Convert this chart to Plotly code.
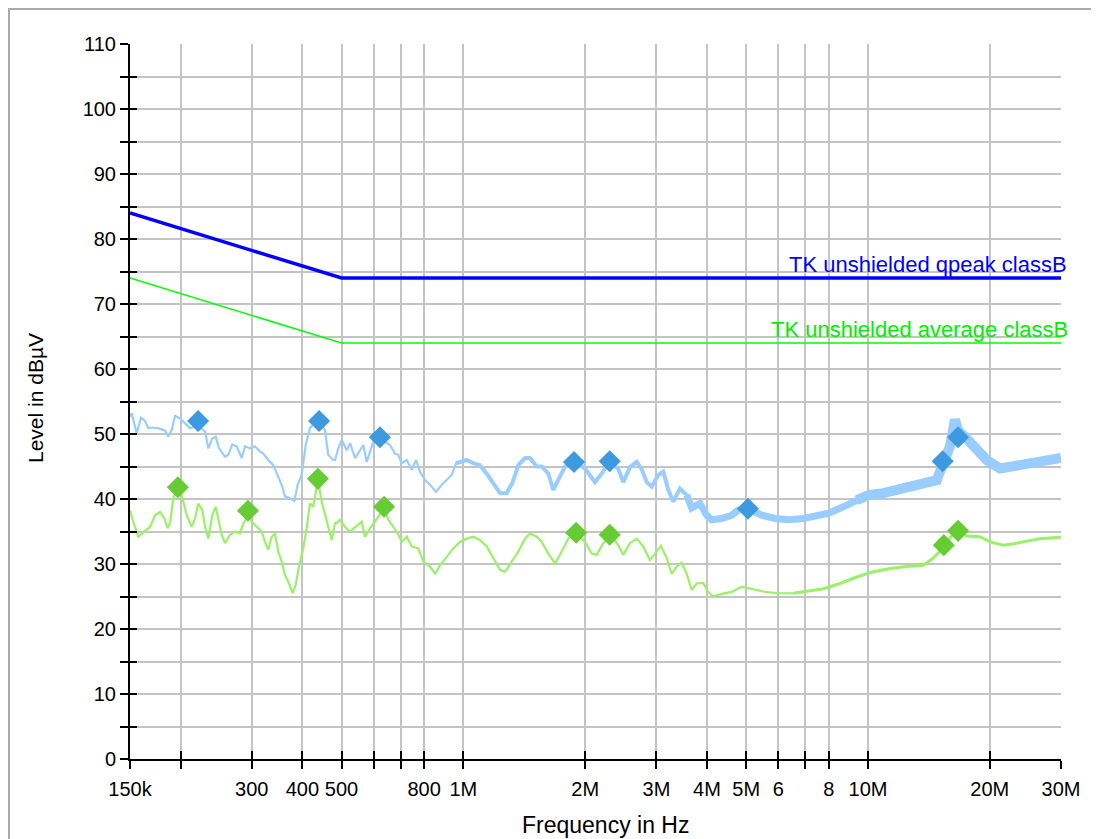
import plotly.graph_objects as go
import numpy as np

# ---------------- data ----------------
limit_qp_freq = [150e3, 500e3, 30e6]
limit_qp_level = [84, 74, 74]
limit_av_freq = [150e3, 500e3, 30e6]
limit_av_level = [74, 64, 64]

peak_freq = [150e3, 151.5e3, 155.8e3, 159.7e3, 163.4e3, 166.5e3, 169.7e3, 176.2e3, 183.1e3, 186.6e3,
             190.2e3, 193.8e3, 199.4e3, 205.2e3, 211.1e3, 219.8e3, 229.9e3, 234.2e3, 239.6e3, 244.3e3,
             248.9e3, 257.6e3, 262.5e3, 268.5e3, 275.3e3, 283.2e3, 288.6e3, 296.9e3, 305.5e3, 314.3e3,
             320.3e3, 329.5e3, 339e3, 348.8e3, 356.9e3, 362.4e3, 372.9e3, 382.1e3, 389.5e3, 398.5e3,
             407.7e3, 417.8e3, 437.2e3, 455e3, 463.6e3, 477e3, 481.8e3, 490.9e3, 500.5e3, 514.9e3,
             524.7e3, 539.9e3, 555.4e3, 566e3, 577e3, 588e3, 599.1e3, 622.4e3, 658.8e3, 677.8e3,
             690.7e3, 704.2e3, 724.5e3, 745.4e3, 763.9e3, 781.5e3, 804e3, 827.2e3, 855.9e3, 884.2e3,
             909.7e3, 935.9e3, 959.1e3, 990.8e3, 1.019e6, 1.058e6, 1.099e6, 1.142e6, 1.186e6, 1.232e6,
             1.280e6, 1.324e6, 1.367e6, 1.420e6, 1.461e6, 1.518e6, 1.562e6, 1.622e6, 1.668e6, 1.717e6,
             1.783e6, 1.880e6, 1.998e6, 2.115e6, 2.197e6, 2.304e6, 2.415e6, 2.485e6, 2.581e6, 2.682e6,
             2.759e6, 2.839e6, 2.921e6, 3.032e6, 3.120e6, 3.210e6, 3.303e6, 3.431e6, 3.564e6, 3.667e6,
             3.844e6, 3.994e6, 4.109e6, 4.350e6, 4.605e6, 4.781e6, 5.062e6, 5.463e6, 5.892e6, 6.356e6,
             6.921e6, 7.472e6, 7.982e6, 8.692e6, 9.382e6, 10.02e6, 10.91e6, 11.78e6, 12.94e6, 13.97e6,
             14.79e6, 15.35e6, 15.95e6, 16.41e6, 16.72e6, 17.54e6, 18.57e6, 19.66e6, 21.2e6, 22.44e6,
             24.21e6, 26.63e6, 29.28e6, 30e6]
peak_level = [52.7, 53.2, 50.1, 52.5, 52.0, 50.9, 51.0, 50.9, 50.5, 49.6,
              50.6, 52.8, 52.4, 51.6, 50.9, 51.2, 50.4, 47.8, 49.3, 49.6,
              47.8, 46.5, 46.8, 48.4, 48.1, 46.3, 48.1, 47.8, 48.1, 47.3,
              47.0, 46.0, 45.2, 43.4, 41.9, 40.4, 40.1, 39.7, 42.2, 43.7,
              48.3, 50.9, 52.3, 50.6, 46.8, 46.0, 46.0, 47.8, 49.1, 47.5,
              48.6, 46.3, 47.5, 48.3, 45.7, 47.3, 48.8, 49.3, 48.3, 47.0,
              46.8, 45.5, 46.0, 44.5, 46.0, 44.2, 42.9, 42.2, 41.1, 42.2,
              42.9, 43.7, 45.5, 45.7, 46.0, 45.5, 45.2, 43.9, 42.4, 40.9,
              40.9, 42.6, 45.2, 46.3, 46.3, 45.0, 45.0, 43.9, 41.4, 42.9,
              45.0, 45.7, 44.7, 42.6, 43.9, 45.8, 44.6, 42.6, 44.9, 45.7,
              44.6, 42.6, 41.9, 43.7, 44.2, 41.4, 39.6, 41.6, 40.6, 38.6,
              39.3, 37.5, 36.8, 37.0, 37.5, 38.3, 38.5, 37.5, 37.0, 36.8,
              37.0, 37.5, 37.8, 38.8, 39.8, 40.6, 40.9, 41.4, 41.9, 42.4,
              42.9, 45.5, 48.1, 52.2, 50.5, 49.3, 47.5, 46.0, 44.7, 45.0,
              45.5, 45.7, 46.3, 46.3]

avg_freq = [150e3, 152.8e3, 157.3e3, 163.4e3, 168.1e3, 173e3, 178e3, 182.4e3, 185.9e3, 188.4e3,
            191.9e3, 197.1e3, 201.3e3, 207.1e3, 213.1e3, 217.2e3, 221.3e3, 226.4e3, 229.9e3, 234.2e3,
            239.6e3, 244.3e3, 248e3, 252.8e3, 257.6e3, 265e3, 272.7e3, 280.5e3, 285.8e3, 293.6e3,
            299.8e3, 308.5e3, 317.4e3, 323.4e3, 329.5e3, 336e3, 342.3e3, 348.8e3, 355.6e3, 362.4e3,
            370.7e3, 378.6e3, 385.1e3, 392.4e3, 402.2e3, 410e3, 417.8e3, 425.7e3, 437.2e3, 446.5e3,
            459.4e3, 472.7e3, 481.8e3, 486.4e3, 495.7e3, 510e3, 524.7e3, 539.9e3, 560.8e3, 571.5e3,
            588e3, 636.7e3, 652.5e3, 671.3e3, 690.7e3, 704.2e3, 724.5e3, 745.4e3, 774e3, 796.3e3,
            827.2e3, 851.1e3, 875.7e3, 909.7e3, 944.5e3, 981.3e3, 1.019e6, 1.058e6, 1.099e6, 1.142e6,
            1.186e6, 1.232e6, 1.267e6, 1.317e6, 1.367e6, 1.420e6, 1.461e6, 1.518e6, 1.562e6, 1.622e6,
            1.685e6, 1.750e6, 1.817e6, 1.899e6, 1.998e6, 2.076e6, 2.136e6, 2.218e6, 2.310e6, 2.415e6,
            2.485e6, 2.581e6, 2.682e6, 2.784e6, 2.892e6, 2.976e6, 3.079e6, 3.181e6, 3.273e6, 3.367e6,
            3.464e6, 3.564e6, 3.667e6, 3.773e6, 3.917e6, 4.030e6, 4.147e6, 4.350e6, 4.605e6, 4.875e6,
            5.161e6, 5.567e6, 6.004e6, 6.540e6, 6.921e6, 7.758e6, 8.530e6, 9.382e6, 10.31e6, 11.34e6,
            12.47e6, 13.7e6, 14.5e6, 15.35e6, 15.95e6, 16.72e6, 17.54e6, 18.93e6, 20.03e6, 21.6e6,
            22.87e6, 24.21e6, 26.63e6, 29.83e6, 30e6]
avg_level = [38.3, 36.5, 34.2, 35.0, 35.7, 37.5, 38.0, 37.0, 35.5, 36.3,
             40.1, 42.0, 40.6, 37.5, 35.7, 37.0, 39.3, 38.3, 35.7, 33.9,
             37.5, 38.8, 36.8, 34.5, 33.2, 34.5, 35.0, 34.7, 36.2, 37.5,
             36.5, 35.7, 35.0, 33.4, 32.2, 34.2, 34.7, 31.9, 30.4, 28.3,
             27.0, 25.5, 26.8, 29.6, 32.4, 35.5, 39.3, 38.8, 43.0, 39.6,
             36.5, 33.7, 36.3, 36.3, 36.8, 35.7, 35.0, 35.7, 36.5, 34.2,
             35.5, 38.5, 36.8, 35.7, 34.5, 33.4, 34.2, 32.7, 32.4, 30.4,
             29.6, 28.5, 29.8, 31.1, 32.4, 33.4, 33.9, 34.2, 33.7, 32.7,
             30.9, 29.1, 28.8, 30.4, 31.9, 33.9, 34.7, 34.2, 33.4, 31.6,
             30.1, 31.9, 33.9, 34.8, 33.4, 31.6, 31.4, 33.2, 34.5, 32.9,
             31.4, 33.2, 33.9, 32.7, 30.6, 31.6, 32.8, 30.9, 28.5, 29.6,
             30.2, 28.5, 26.0, 27.0, 27.1, 25.7, 25.0, 25.4, 25.7, 26.5,
             26.2, 25.7, 25.5, 25.5, 25.7, 26.2, 27.0, 28.0, 28.8, 29.3,
             29.6, 29.8, 30.9, 32.5, 34.0, 35.3, 34.3, 34.2, 33.4, 32.9,
             33.1, 33.4, 33.9, 34.1, 34.1]

peak_marker_freq = [221e3, 440e3, 622e3, 1.877e6, 2.30e6, 5.05e6, 15.3e6, 16.7e6]
peak_marker_level = [52.0, 52.0, 49.5, 45.7, 45.8, 38.5, 45.8, 49.5]
avg_marker_freq = [197e3, 293.5e3, 437e3, 637e3, 1.9e6, 2.30e6, 15.4e6, 16.7e6]
avg_marker_level = [41.8, 38.2, 43.1, 38.8, 34.8, 34.5, 32.9, 35.1]

x_tickvals = [150e3, 200e3, 300e3, 400e3, 500e3, 600e3, 700e3, 800e3, 1e6, 2e6, 3e6, 4e6, 5e6,
              6e6, 7e6, 8e6, 10e6, 20e6, 30e6]
x_ticktext = ["150k", "", "300", "400", "500", "", "", "800", "1M", "2M", "3M", "4M", "5M",
              "6", "", "8", "10M", "20M", "30M"]
y_tickvals = list(range(0, 111, 5))
y_ticktext = [str(v) if v % 10 == 0 else "" for v in y_tickvals]

limit_qp_name = "TK unshielded qpeak classB"
limit_av_name = "TK unshielded average classB"
x_title = "Frequency in Hz"
y_title = "Level in dBµV"

# ---------------- figure ----------------
FONT = "Liberation Sans, Arial, sans-serif"
# page body has an 8px margin: figure pixel = screen pixel - 8
ML, MT, MR, MB = 122, 36, 46, 88
PW, PH = 931, 715

fig = go.Figure()

pf = np.array(peak_freq)
pl = np.array(peak_level)
af = np.array(avg_freq)
al = np.array(avg_level)

segments = [(0, 1.0e6, 2.2), (0.95e6, 3.7e6, 4.0), (3.5e6, 9.5e6, 7.0), (9.0e6, 31e6, 10.0)]
for lo, hi, w in segments:
    m = (pf >= lo) & (pf <= hi)
    fig.add_trace(go.Scatter(x=pf[m], y=pl[m], mode="lines",
                             line=dict(color="#99ccff", width=w), hoverinfo="skip",
                             showlegend=False))

asegs = [(0, 7.0e6, 2.2), (6.5e6, 31e6, 3.0)]
for lo, hi, w in asegs:
    m = (af >= lo) & (af <= hi)
    fig.add_trace(go.Scatter(x=af[m], y=al[m], mode="lines",
                             line=dict(color="#99f266", width=w), hoverinfo="skip",
                             showlegend=False))

fig.add_trace(go.Scatter(x=limit_qp_freq, y=limit_qp_level, mode="lines",
                         line=dict(color="#0000ff", width=3.5), showlegend=False))
fig.add_trace(go.Scatter(x=limit_av_freq, y=limit_av_level, mode="lines",
                         line=dict(color="#00ff00", width=1.6), showlegend=False))

fig.add_trace(go.Scatter(x=peak_marker_freq, y=peak_marker_level, mode="markers",
                         marker=dict(symbol="diamond", size=17, color="#3d9ae0",
                                     line=dict(width=0)), showlegend=False))
fig.add_trace(go.Scatter(x=avg_marker_freq, y=avg_marker_level, mode="markers",
                         marker=dict(symbol="diamond", size=17, color="#66cc33",
                                     line=dict(width=0)), showlegend=False))

fig.add_trace(go.Scatter(x=[1e6], y=[50], xaxis="x2", yaxis="y", mode="markers",
                         marker=dict(opacity=0), hoverinfo="skip", showlegend=False))
fig.add_trace(go.Scatter(x=[1e6], y=[50], xaxis="x", yaxis="y2", mode="markers",
                         marker=dict(opacity=0), hoverinfo="skip", showlegend=False))

xr = [np.log10(150e3), np.log10(30e6)]
common_x = dict(type="log", range=xr, tickmode="array", tickvals=x_tickvals, zeroline=False)
common_y = dict(range=[0, 110], tickmode="array", tickvals=y_tickvals, zeroline=False)


def px_x(sx):
    return (sx - 8 - ML) / PW


def px_y(sy):
    return (PH + MT - (sy - 8)) / PH


fig.update_layout(
    width=1099, height=839, autosize=False,
    margin=dict(l=ML, r=MR, t=MT, b=MB),
    paper_bgcolor="white", plot_bgcolor="white",
    font=dict(family=FONT, color="black", size=20),
    xaxis=dict(**common_x, ticktext=x_ticktext, ticks="outside", ticklen=8, tickwidth=2,
               tickcolor="black", showline=True, linecolor="black", linewidth=2,
               showgrid=True, gridcolor="#c4c4c4", gridwidth=2,
               tickfont=dict(size=20, color="black", family=FONT), ticklabelstandoff=3),
    yaxis=dict(**common_y, ticktext=y_ticktext, ticks="outside", ticklen=8, tickwidth=2,
               tickcolor="black", showline=True, linecolor="black", linewidth=2,
               showgrid=True, gridcolor="#c4c4c4", gridwidth=2,
               tickfont=dict(size=20, color="black", family=FONT)),
    xaxis2=dict(**common_x, overlaying="x", anchor="y", side="bottom", ticks="inside",
                ticklen=8, tickwidth=2, tickcolor="black", showticklabels=False,
                showgrid=False, showline=False),
    yaxis2=dict(**common_y, overlaying="y", anchor="x", side="left", ticks="inside",
                ticklen=7, tickwidth=2, tickcolor="black", showticklabels=False,
                showgrid=False, showline=False),
    shapes=[dict(type="rect", xref="paper", yref="paper",
                 x0=px_x(9), x1=px_x(1130),
                 y0=px_y(870), y1=px_y(9),
                 line=dict(color="#aaaaaa", width=2), layer="below")],
    annotations=[
        dict(x=np.log10(30e6), y=74, xref="x", yref="y", text=limit_qp_name, showarrow=False,
             xanchor="right", yanchor="bottom", xshift=8, yshift=-1,
             font=dict(size=22, color="#0000ff", family=FONT)),
        dict(x=np.log10(30e6), y=64, xref="x", yref="y", text=limit_av_name, showarrow=False,
             xanchor="right", yanchor="bottom", xshift=9, yshift=-1,
             font=dict(size=22, color="#00ee00", family=FONT)),
        dict(x=px_x(605), y=px_y(825), xref="paper", yref="paper",
             text=x_title, showarrow=False, xanchor="center", yanchor="middle",
             font=dict(size=23, color="black", family=FONT)),
        dict(x=px_x(35), y=px_y(398), xref="paper", yref="paper",
             text=y_title, showarrow=False, textangle=-90, xanchor="center", yanchor="middle",
             font=dict(size=21, color="black", family=FONT)),
    ],
)

fig.write_html("out.html")
